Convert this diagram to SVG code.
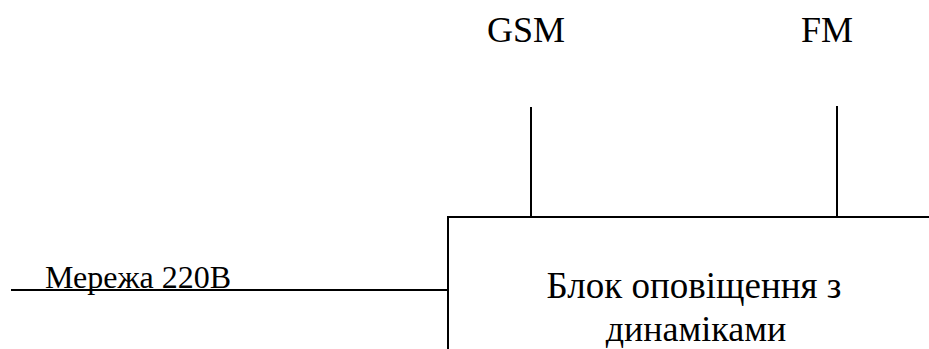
<svg xmlns="http://www.w3.org/2000/svg" width="929" height="349" viewBox="0 0 929 349">
  <style>
    .wire { stroke: #000; stroke-width: 2; fill: none; }
    .box { stroke: #000; stroke-width: 2; fill: #fff; }
    .lbl { font-family: "Liberation Serif", "Times New Roman", serif; fill: #000; }
  </style>
  <rect width="929" height="349" fill="#fff"/>

  <!-- Notification unit (runs off the right and bottom edges) -->
  <g id="unit">
    <rect class="box" x="448" y="217" width="500" height="160"/>
    <text class="lbl" x="694" y="298" font-size="37" text-anchor="middle">Блок оповіщення з</text>
    <text class="lbl" x="696" y="341" font-size="36" text-anchor="middle">динаміками</text>
  </g>

  <!-- Input labels -->
  <g id="gsm">
    <text class="lbl" x="526" y="42" font-size="36" text-anchor="middle">GSM</text>
  </g>
  <g id="fm">
    <text class="lbl" x="827" y="42" font-size="36" text-anchor="middle">FM</text>
  </g>
  <g id="mains">
    <text class="lbl" x="45" y="288" font-size="32">Мережа 220В</text>
  </g>

  <!-- Connectors -->
  <g id="connectors">
    <line class="wire" x1="531" y1="107" x2="531" y2="217"/>
    <line class="wire" x1="837" y1="106" x2="837" y2="217"/>
    <line class="wire" x1="11" y1="290" x2="448" y2="290"/>
  </g>
</svg>
